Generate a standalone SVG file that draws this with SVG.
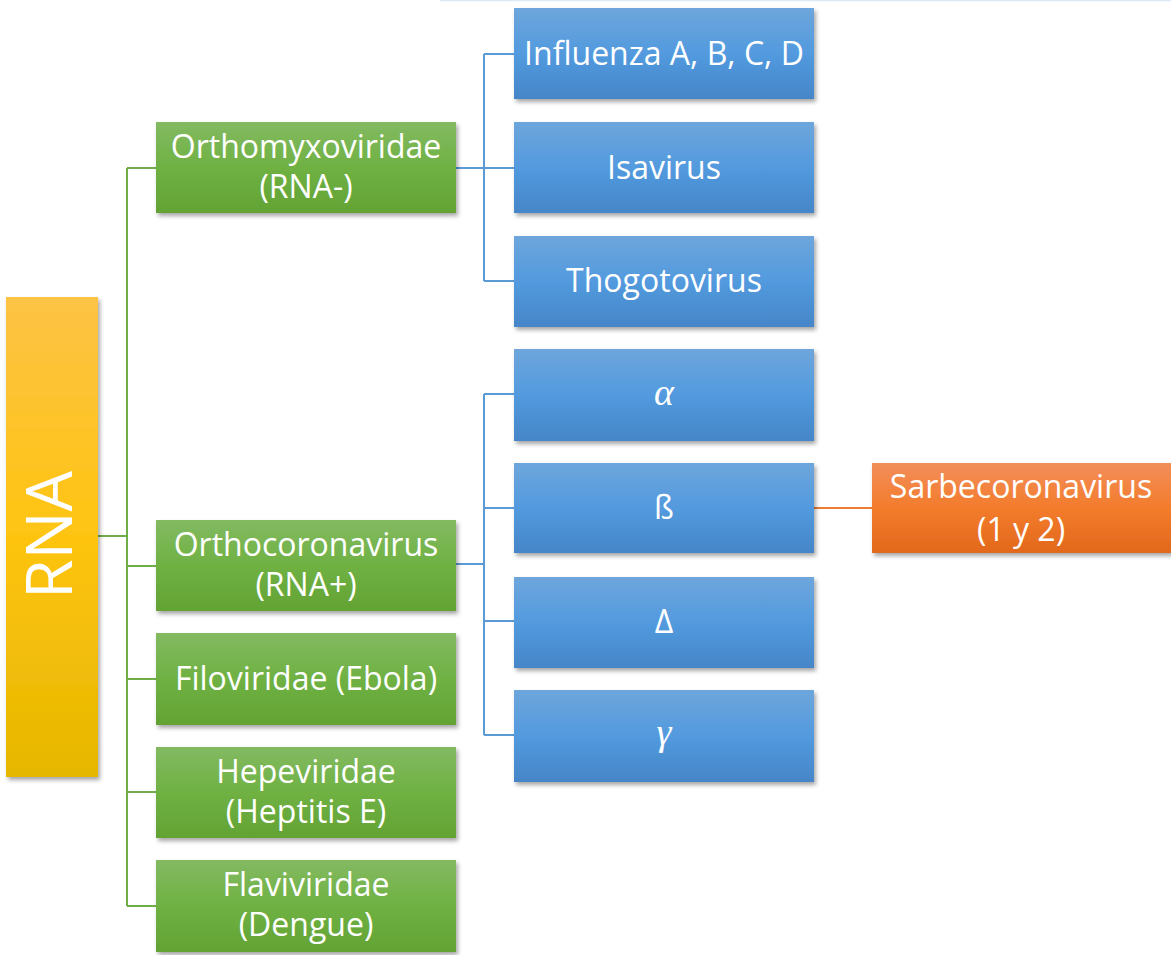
<svg xmlns="http://www.w3.org/2000/svg" width="1171" height="955" viewBox="0 0 1171 955">
<defs>
<linearGradient id="gGreen" x1="0" y1="0" x2="0" y2="1"><stop offset="0" stop-color="#83ba62"/><stop offset="0.5" stop-color="#6fb143"/><stop offset="1" stop-color="#63a334"/></linearGradient>
<linearGradient id="gBlue" x1="0" y1="0" x2="0" y2="1"><stop offset="0" stop-color="#6ea6dc"/><stop offset="0.5" stop-color="#529ade"/><stop offset="1" stop-color="#4586c8"/></linearGradient>
<linearGradient id="gOrange" x1="0" y1="0" x2="0" y2="1"><stop offset="0" stop-color="#f28e5a"/><stop offset="0.5" stop-color="#f37c2c"/><stop offset="1" stop-color="#e2681b"/></linearGradient>
<linearGradient id="gYellow" x1="0" y1="0" x2="0" y2="1"><stop offset="0" stop-color="#fdc345"/><stop offset="0.5" stop-color="#fec411"/><stop offset="1" stop-color="#e6b700"/></linearGradient>
<filter id="sh" x="-10%" y="-10%" width="130%" height="140%"><feDropShadow dx="2" dy="3" stdDeviation="2.2" flood-color="#000" flood-opacity="0.35"/></filter>
</defs>
<style>
text{font-family:"Open Sans","Liberation Sans",sans-serif;fill:#fff;font-size:32px;text-anchor:middle}
.greek{font-family:"Liberation Serif","DejaVu Serif",serif;font-style:italic;font-size:38px}
.g{fill:none;stroke:#70ad47;stroke-width:2}
.b{fill:none;stroke:#5b9bd5;stroke-width:2}
.o{fill:none;stroke:#ed7d31;stroke-width:2}
</style>
<rect width="1171" height="955" fill="#fff"/>
<line x1="440" y1="0.5" x2="1171" y2="0.5" stroke="#dce9f6" stroke-width="1.5"/>
<g id="connectors">
<path class="g" d="M98 536H127M127 168V906M127 168H156M127 566H156M127 679H156M127 792H156M127 906H156"/>
<path class="b" d="M456 168H484M484 54V281M484 54H514M484 168H514M484 281H514"/>
<path class="b" d="M484 394V735M484 394H514M484 508H514M484 621H514M484 735H514"/>
<path class="b" stroke-width="3" d="M456 564H484"/>
<path class="o" d="M814 508H872"/>
</g>
<g id="rna"><rect x="6" y="297" width="92" height="480" fill="url(#gYellow)" filter="url(#sh)"/><text transform="translate(72 535) rotate(-90)" style="font-size:64px">RNA</text></g>
<g id="orthomyxoviridae"><rect x="156" y="122" width="300" height="91" fill="url(#gGreen)" filter="url(#sh)"/><text x="306" y="158">Orthomyxoviridae</text><text x="306" y="198">(RNA-)</text></g>
<g id="orthocoronavirus"><rect x="156" y="520" width="300" height="91" fill="url(#gGreen)" filter="url(#sh)"/><text x="306" y="556">Orthocoronavirus</text><text x="306" y="596">(RNA+)</text></g>
<g id="filoviridae"><rect x="156" y="633" width="300" height="92" fill="url(#gGreen)" filter="url(#sh)"/><text x="306" y="690">Filoviridae (Ebola)</text></g>
<g id="hepeviridae"><rect x="156" y="747" width="300" height="91" fill="url(#gGreen)" filter="url(#sh)"/><text x="306" y="783">Hepeviridae</text><text x="306" y="823">(Heptitis E)</text></g>
<g id="flaviviridae"><rect x="156" y="860" width="300" height="92" fill="url(#gGreen)" filter="url(#sh)"/><text x="306" y="896">Flaviviridae</text><text x="306" y="936">(Dengue)</text></g>
<g id="influenza"><rect x="514" y="8" width="300" height="91" fill="url(#gBlue)" filter="url(#sh)"/><text x="664" y="65">Influenza A, B, C, D</text></g>
<g id="isavirus"><rect x="514" y="122" width="300" height="91" fill="url(#gBlue)" filter="url(#sh)"/><text x="664" y="179">Isavirus</text></g>
<g id="thogotovirus"><rect x="514" y="236" width="300" height="91" fill="url(#gBlue)" filter="url(#sh)"/><text x="664" y="292">Thogotovirus</text></g>
<g id="alpha"><rect x="514" y="349" width="300" height="92" fill="url(#gBlue)" filter="url(#sh)"/><text class="greek" x="664" y="405">α</text></g>
<g id="beta"><rect x="514" y="463" width="300" height="90" fill="url(#gBlue)" filter="url(#sh)"/><text x="664" y="519">ß</text></g>
<g id="delta"><rect x="514" y="577" width="300" height="91" fill="url(#gBlue)" filter="url(#sh)"/><text x="664" y="633">Δ</text></g>
<g id="gamma"><rect x="514" y="690" width="300" height="92" fill="url(#gBlue)" filter="url(#sh)"/><text class="greek" x="664" y="745">γ</text></g>
<g id="sarbecoronavirus"><rect x="872" y="463" width="299" height="90" fill="url(#gOrange)" filter="url(#sh)"/><text x="1021" y="498">Sarbecoronavirus</text><text x="1021" y="541">(1 y 2)</text></g>
</svg>
